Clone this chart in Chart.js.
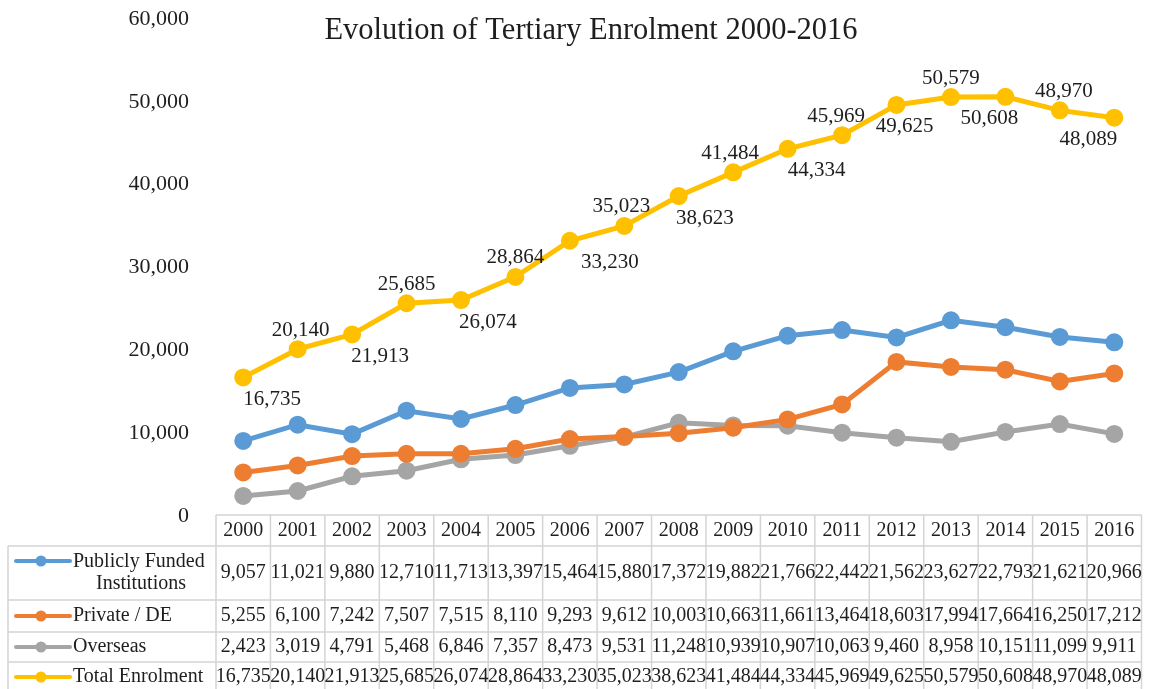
<!DOCTYPE html>
<html>
<head>
<meta charset="utf-8">
<script src="https://cdn.jsdelivr.net/npm/chart.js@4"></script>
<style>
  html, body { margin: 0; padding: 0; background: #fff; }
  #wrap { width: 1153px; height: 689px; position: relative; }
</style>
</head>
<body>
<div id="wrap"><canvas id="c" width="1153" height="689"></canvas></div>
<script>
// ---- data ----
const years = ['2000','2001','2002','2003','2004','2005','2006','2007','2008','2009','2010','2011','2012','2013','2014','2015','2016'];
const publicFunded = [9057, 11021, 9880, 12710, 11713, 13397, 15464, 15880, 17372, 19882, 21766, 22442, 21562, 23627, 22793, 21621, 20966];
const privateDE    = [5255, 6100, 7242, 7507, 7515, 8110, 9293, 9612, 10003, 10663, 11661, 13464, 18603, 17994, 17664, 16250, 17212];
const overseas     = [2423, 3019, 4791, 5468, 6846, 7357, 8473, 9531, 11248, 10939, 10907, 10063, 9460, 8958, 10151, 11099, 9911];
const totalEnrol   = [16735, 20140, 21913, 25685, 26074, 28864, 33230, 35023, 38623, 41484, 44334, 45969, 49625, 50579, 50608, 48970, 48089];
const seriesNames  = ['Publicly Funded Institutions', 'Private / DE', 'Overseas', 'Total Enrolment'];
const yTicks       = [0, 10000, 20000, 30000, 40000, 50000, 60000];
const titleText    = 'Evolution of Tertiary Enrolment 2000-2016';

// ---- styles ----
const colors = ['#5B9BD5', '#ED7D31', '#A5A5A5', '#FFC000'];
const SERIF = '"Liberation Serif", "Times New Roman", serif';
const TEXT = '#1e1e1e';
// label horizontal nudges for the total-enrolment data labels (style only)
const labelDx = [29, 3, 28, 0, 27, 0, 40, -3, 26, -3, 29, -6, 8, 0, -16, 4, -26];

const fmt = v => Number(v).toLocaleString('en-US');

const extras = {
  id: 'extras',
  afterDatasetsDraw(chart) {
    const ctx = chart.ctx;
    const meta = chart.getDatasetMeta(3);
    ctx.save();
    ctx.font = '21px ' + SERIF;
    ctx.fillStyle = TEXT;
    ctx.textAlign = 'center';
    ctx.textBaseline = 'middle';
    meta.data.forEach((pt, i) => {
      const below = i % 2 === 0;
      const dy = below ? 22 : -19;
      ctx.fillText(fmt(totalEnrol[i]), pt.x + labelDx[i], pt.y + dy);
    });
    ctx.restore();
  },
  afterDraw(chart) {
    const ctx = chart.ctx;
    const xs = chart.scales.x;
    const n = years.length;
    const left = chart.chartArea.left, right = chart.chartArea.right;
    const colW = (right - left) / n;
    ctx.save();
    // title
    ctx.font = '30.5px ' + SERIF;
    ctx.fillStyle = TEXT;
    ctx.textAlign = 'center';
    ctx.textBaseline = 'middle';
    ctx.fillText(titleText, 591, 31);

    // table geometry
    const headTop = 515, headBot = 546;
    const rowB = [546, 600, 632, 662, 694];
    const tableLeft = 8;
    ctx.strokeStyle = '#D4D4D4';
    ctx.lineWidth = 1.5;
    ctx.beginPath();
    ctx.moveTo(left, headTop); ctx.lineTo(right, headTop);
    for (let i = 0; i <= n; i++) {
      const x = left + i * colW;
      ctx.moveTo(x, headTop); ctx.lineTo(x, rowB[rowB.length - 1]);
    }
    rowB.forEach(y => { ctx.moveTo(tableLeft, y); ctx.lineTo(right, y); });
    ctx.moveTo(tableLeft, rowB[0]); ctx.lineTo(tableLeft, rowB[rowB.length - 1]);
    ctx.stroke();

    // header text
    ctx.font = '20px ' + SERIF;
    ctx.fillStyle = TEXT;
    ctx.textAlign = 'center';
    years.forEach((yr, i) => {
      ctx.fillText(yr, xs.getPixelForValue(i), 531);
    });

    // rows
    const rows = [publicFunded, privateDE, overseas, totalEnrol];
    const rowMid = [573, 616, 647, 677];
    const keyY = [561, 616, 647, 677];
    rows.forEach((vals, r) => {
      ctx.strokeStyle = colors[r];
      ctx.lineWidth = 4;
      ctx.lineCap = 'round';
      ctx.beginPath();
      ctx.moveTo(16, keyY[r]); ctx.lineTo(70, keyY[r]);
      ctx.stroke();
      ctx.fillStyle = colors[r];
      ctx.beginPath();
      ctx.arc(41, keyY[r], 5.5, 0, Math.PI * 2);
      ctx.fill();
      ctx.fillStyle = TEXT;
      ctx.textAlign = 'left';
      if (r === 0) {
        ctx.fillText('Publicly Funded', 73, 562);
        ctx.textAlign = 'center';
        ctx.fillText('Institutions', 141, 584);
      } else {
        ctx.fillText(seriesNames[r], 73, rowMid[r]);
      }
      ctx.textAlign = 'center';
      vals.forEach((v, i) => {
        ctx.fillText(fmt(v), xs.getPixelForValue(i), rowMid[r]);
      });
    });
    ctx.restore();
  }
};

const mkDs = (label, data, c) => ({
  label, data,
  borderColor: c, backgroundColor: c,
  pointBackgroundColor: c, pointBorderColor: c,
  borderWidth: 5, pointRadius: 6.5, pointHoverRadius: 6.5,
  tension: 0, fill: false
});

new Chart(document.getElementById('c'), {
  type: 'line',
  data: {
    labels: years,
    datasets: [
      mkDs(seriesNames[0], publicFunded, colors[0]),
      mkDs(seriesNames[1], privateDE, colors[1]),
      mkDs(seriesNames[2], overseas, colors[2]),
      mkDs(seriesNames[3], totalEnrol, colors[3])
    ]
  },
  options: {
    responsive: false,
    animation: false,
    events: [],
    layout: { padding: { top: 19, bottom: 173, left: 0, right: 7 } },
    plugins: { legend: { display: false }, title: { display: false }, tooltip: { enabled: false } },
    scales: {
      x: { type: 'category', display: false, offset: true },
      y: {
        min: yTicks[0], max: yTicks[yTicks.length - 1],
        afterFit(scale) { scale.width = 216; scale.paddingTop = 0; scale.paddingBottom = 0; },
        afterBuildTicks(scale) { scale.ticks = yTicks.map(v => ({ value: v })); },
        grid: { display: false },
        border: { display: false },
        ticks: {
          padding: 19,
          color: TEXT,
          font: { family: SERIF, size: 22 },
          callback: v => fmt(v)
        }
      }
    }
  },
  plugins: [extras]
});
</script>
</body>
</html>
